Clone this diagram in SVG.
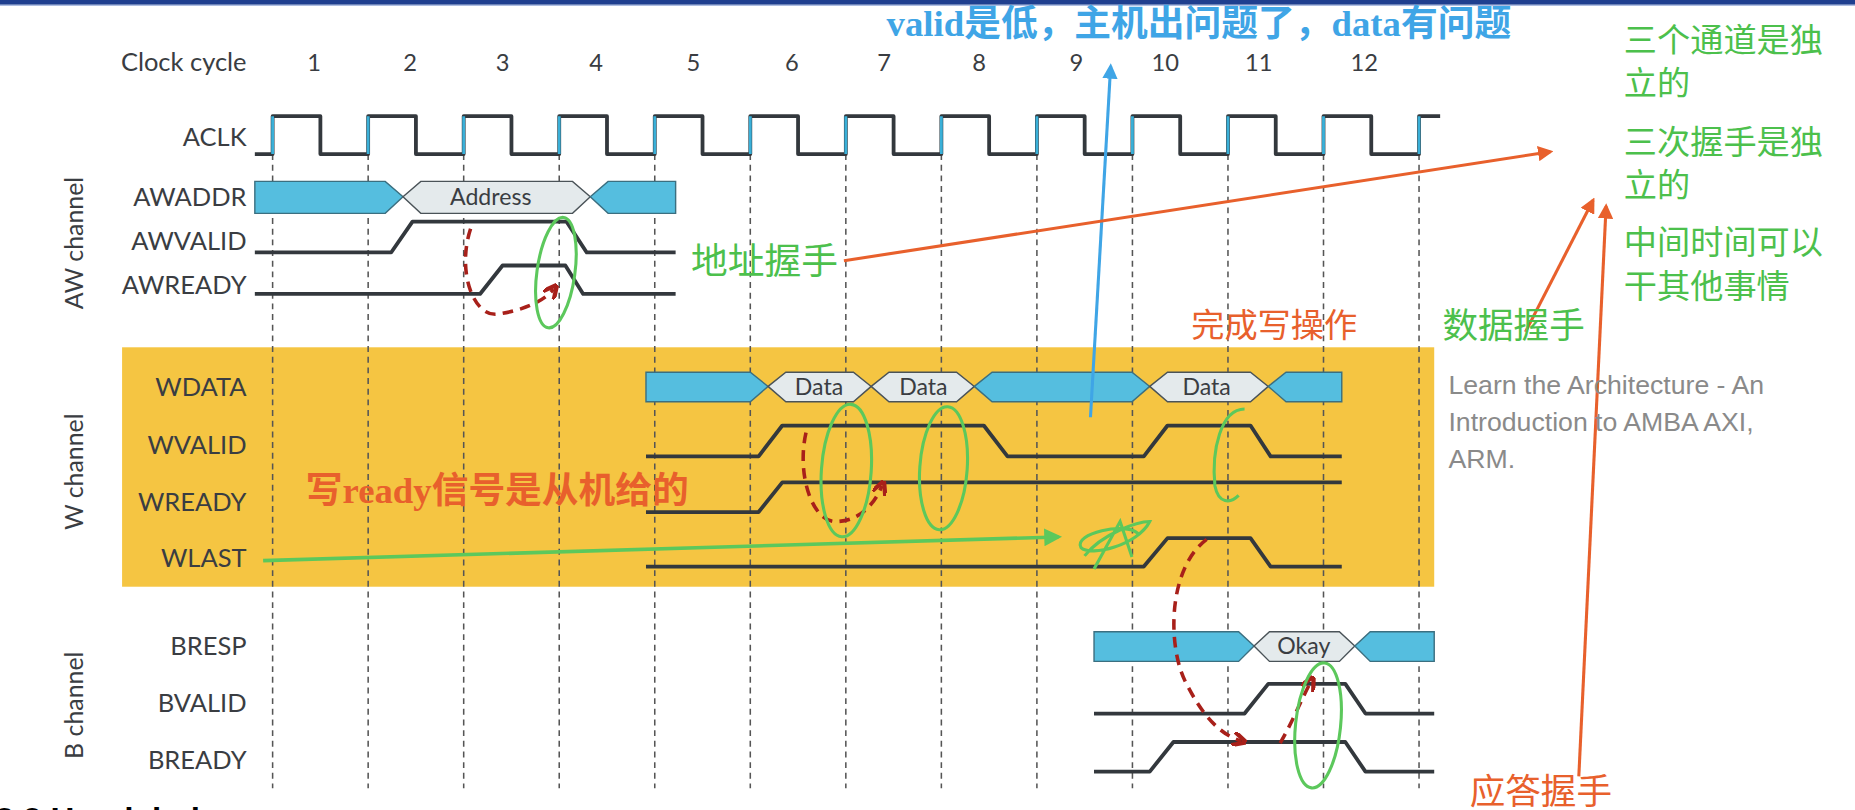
<svg xmlns="http://www.w3.org/2000/svg" width="1855" height="810" viewBox="0 0 1855 810">
<style>
.lbl{font-family:Lato,"Open Sans",sans-serif;font-size:21.5px;fill:#3a3d42;text-anchor:end}
.num{font-family:Lato,"Open Sans",sans-serif;font-size:20px;fill:#3a3d42;text-anchor:middle}
.ch{font-family:Lato,"Open Sans",sans-serif;font-size:21px;fill:#3a3d42;text-anchor:middle}
.sig{fill:none;stroke:#33383d;stroke-width:3.2;stroke-linejoin:round}
.bus{fill:#55bedf;stroke:#3b6f80;stroke-width:1.2}
.hex{fill:#e4eaec;stroke:#4a5358;stroke-width:1.2}
.htxt{font-family:Lato,"Open Sans",sans-serif;font-size:19.5px;fill:#3a3d42;text-anchor:middle}
.dash{stroke:#555;stroke-width:1.3;stroke-dasharray:5,4}
.cn{font-family:"Liberation Serif","Noto Sans CJK SC",serif;font-size:28px}
.grn{fill:#4cc04c}.org{fill:#e8602c}.blu{fill:#3fa5e6}
.gl{fill:none;stroke:#5cc85c;stroke-width:2.6}
.rd{fill:none;stroke:#a8201a;stroke-width:3;stroke-dasharray:9,6}
.ol{stroke:#e8602c;stroke-width:2.6;fill:none}
.gray{font-family:"Liberation Sans",Arial,sans-serif;font-size:22.5px;fill:#8a8a8a}
</style>
<defs>
<marker id="ao" viewBox="0 0 10 10" refX="8" refY="5" markerWidth="5" markerHeight="5" orient="auto"><path d="M0,0L10,5L0,10z" fill="#e8602c"/></marker>
<marker id="ag" viewBox="0 0 10 10" refX="8" refY="5" markerWidth="5" markerHeight="5" orient="auto"><path d="M0,0L10,5L0,10z" fill="#5cc85c"/></marker>
<marker id="ab" viewBox="0 0 10 10" refX="8" refY="5" markerWidth="5" markerHeight="5" orient="auto"><path d="M0,0L10,5L0,10z" fill="#3fa5e6"/></marker>
<marker id="ar" viewBox="0 0 10 10" refX="6" refY="5" markerWidth="4" markerHeight="4" orient="auto"><path d="M0,0L10,5L0,10" fill="none" stroke="#a8201a" stroke-width="3"/></marker>
</defs>
<rect width="1855" height="810" fill="#fff"/>
<g transform="scale(1.1853)">
<rect x="0" y="0" width="1565" height="4" fill="#1f3f8f"/>
<rect x="0" y="4" width="1565" height="1" fill="#a8b8e0"/>
<rect x="103" y="293" width="1107" height="202" fill="#f5c542"/>
<g id="labels">
<text class="lbl" x="208" y="60">Clock cycle</text>
<text class="num" x="265" y="60">1</text><text class="num" x="346" y="60">2</text><text class="num" x="424" y="60">3</text><text class="num" x="503" y="60">4</text><text class="num" x="585" y="60">5</text><text class="num" x="668" y="60">6</text><text class="num" x="746" y="60">7</text><text class="num" x="826" y="60">8</text><text class="num" x="908" y="60">9</text><text class="num" x="983" y="60">10</text><text class="num" x="1062" y="60">11</text><text class="num" x="1151" y="60">12</text>
<text class="lbl" x="208" y="123">ACLK</text>
<text class="lbl" x="208" y="174">AWADDR</text>
<text class="lbl" x="208" y="211">AWVALID</text>
<text class="lbl" x="208" y="248">AWREADY</text>
<text class="lbl" x="208" y="334">WDATA</text>
<text class="lbl" x="208" y="383">WVALID</text>
<text class="lbl" x="208" y="431">WREADY</text>
<text class="lbl" x="208" y="478">WLAST</text>
<text class="lbl" x="208" y="553">BRESP</text>
<text class="lbl" x="208" y="601">BVALID</text>
<text class="lbl" x="208" y="649">BREADY</text>
<text class="ch" transform="translate(70,205) rotate(-90)">AW channel</text>
<text class="ch" transform="translate(70,398) rotate(-90)">W channel</text>
<text class="ch" transform="translate(70,595) rotate(-90)">B channel</text>
</g>
<g id="grid">
<line class="dash" x1="230" y1="130" x2="230" y2="665"/><line class="dash" x1="310.6" y1="130" x2="310.6" y2="665"/><line class="dash" x1="391.2" y1="130" x2="391.2" y2="665"/><line class="dash" x1="471.8" y1="130" x2="471.8" y2="665"/><line class="dash" x1="552.4" y1="130" x2="552.4" y2="665"/><line class="dash" x1="633" y1="130" x2="633" y2="665"/><line class="dash" x1="713.6" y1="130" x2="713.6" y2="665"/><line class="dash" x1="794.2" y1="130" x2="794.2" y2="665"/><line class="dash" x1="874.8" y1="130" x2="874.8" y2="665"/><line class="dash" x1="955.4" y1="130" x2="955.4" y2="665"/><line class="dash" x1="1036" y1="130" x2="1036" y2="665"/><line class="dash" x1="1116.6" y1="130" x2="1116.6" y2="665"/><line class="dash" x1="1197.2" y1="130" x2="1197.2" y2="665"/>
</g>
<g id="aclk">
<path class="sig" d="M215,130 H230 V98 H270.3 V130 H310.6 V98 H350.9 V130 H391.2 V98 H431.5 V130 H471.8 V98 H512.1 V130 H552.4 V98 H592.7 V130 H633 V98 H673.3 V130 H713.6 V98 H753.9 V130 H794.2 V98 H834.5 V130 H874.8 V98 H915.1 V130 H955.4 V98 H995.7 V130 H1036 V98 H1076.3 V130 H1116.6 V98 H1156.9 V130 H1197.2 V98 H1215"/>
<path stroke="#3ab0d8" stroke-width="2.4" d="M230,98V130M310.6,98V130M391.2,98V130M471.8,98V130M552.4,98V130M633,98V130M713.6,98V130M794.2,98V130M874.8,98V130M955.4,98V130M1036,98V130M1116.6,98V130M1197.2,98V130"/>
</g>
<g id="aw">
<polygon class="bus" points="215,153 325,153 340,166 325,180 215,180"/>
<polygon class="hex" points="340,166 355,153 483,153 498,166 483,180 355,180"/>
<text class="htxt" x="414" y="173">Address</text>
<polygon class="bus" points="498,166 513,153 570,153 570,180 513,180"/>
<path class="sig" d="M215,213 H330 L348,187 H478 L495,213 H570"/>
<path class="sig" d="M215,248 H405 L424,224 H477 L492,248 H570"/>
</g>
<g id="w">
<polygon class="bus" points="545,314 633,314 648,326 633,339 545,339"/>
<polygon class="hex" points="648,326 663,314 720,314 735,326 720,339 663,339"/>
<text class="htxt" x="691" y="333">Data</text>
<polygon class="hex" points="735,326 750,314 807,314 822,326 807,339 750,339"/>
<text class="htxt" x="779" y="333">Data</text>
<polygon class="bus" points="822,326 837,314 955,314 970,326 955,339 837,339"/>
<polygon class="hex" points="970,326 985,314 1055,314 1070,326 1055,339 985,339"/>
<text class="htxt" x="1018" y="333">Data</text>
<polygon class="bus" points="1070,326 1085,314 1132,314 1132,339 1085,339"/>
<path class="sig" d="M545,385 H640 L660,359 H830 L850,385 H965 L985,359 H1055 L1072,385 H1132"/>
<path class="sig" d="M545,432 H640 L660,407 H1132"/>
<path class="sig" d="M545,478 H965 L985,454 H1055 L1072,478 H1132"/>
</g>
<g id="b">
<polygon class="bus" points="923,533 1045,533 1058,545 1045,558 923,558"/>
<polygon class="hex" points="1058,545 1071,533 1130,533 1143,545 1130,558 1071,558"/>
<text class="htxt" x="1100" y="552">Okay</text>
<polygon class="bus" points="1143,545 1156,533 1210,533 1210,558 1156,558"/>
<path class="sig" d="M923,602 H1050 L1070,577 H1135 L1152,602 H1210"/>
<path class="sig" d="M923,651 H970 L990,626 H1135 L1152,651 H1210"/>
</g>
<g id="connectors">
<path class="rd" d="M397,193 C385,230 400,268 420,265 C440,262 458,255 467,244" marker-end="url(#ar)"/>
<path class="rd" d="M680,365 C672,400 685,440 705,440 C725,440 738,425 744,410" marker-end="url(#ar)"/>
<path class="rd" d="M1018,455 C985,480 985,545 1000,575 C1015,605 1030,620 1047,625" marker-end="url(#ar)"/>
<path class="rd" d="M1080,627 C1090,610 1098,590 1106,575" marker-end="url(#ar)"/>
<ellipse class="gl" cx="469" cy="230" rx="16" ry="47" transform="rotate(8 469 230)"/>
<ellipse class="gl" cx="714" cy="397" rx="21" ry="56" transform="rotate(4 714 397)"/>
<ellipse class="gl" cx="796" cy="395" rx="20" ry="52" transform="rotate(4 796 395)"/>
<path class="gl" d="M1050,345 C1030,345 1022,380 1025,410 C1028,425 1038,425 1045,418"/>
<ellipse class="gl" cx="1112" cy="612" rx="19" ry="53" transform="rotate(6 1112 612)"/>
<path class="gl" d="M915,469 C930,450 960,440 970,440 C960,460 920,470 912,462 C905,450 950,440 960,450 M923,480 L945,440 L955,470"/>
<line x1="222" y1="473" x2="893" y2="453" stroke="#5cc85c" stroke-width="3" marker-end="url(#ag)"/>
<line x1="920" y1="352" x2="937" y2="56" stroke="#3fa5e6" stroke-width="2.6" marker-end="url(#ab)"/>
<line class="ol" x1="712" y1="220" x2="1308" y2="128" marker-end="url(#ao)"/>
<line class="ol" x1="1287" y1="280" x2="1344" y2="169" marker-end="url(#ao)"/>
<line class="ol" x1="1332" y1="655" x2="1355" y2="174" marker-end="url(#ao)"/>
</g>
<g id="annotations">
<text class="cn blu" x="748" y="30" style="font-weight:bold;font-size:31px">valid是低，主机出问题了，data有问题</text>
<text class="cn grn" x="1370" y="44">三个通道是独</text>
<text class="cn grn" x="1370" y="80">立的</text>
<text class="cn grn" x="1370" y="130">三次握手是独</text>
<text class="cn grn" x="1370" y="166">立的</text>
<text class="cn grn" x="1370" y="214">中间时间可以</text>
<text class="cn grn" x="1370" y="251">干其他事情</text>
<text class="cn grn" x="583" y="231" style="font-size:31px">地址握手</text>
<text class="cn org" x="1005" y="284">完成写操作</text>
<text class="cn grn" x="1217" y="285" style="font-size:30px">数据握手</text>
<text class="cn org" x="258" y="424" style="font-weight:bold;font-size:31px">写ready信号是从机给的</text>
<text class="cn org" x="1240" y="678" style="font-size:30px">应答握手</text>
<text class="gray" x="1222" y="332">Learn the Architecture - An</text>
<text class="gray" x="1222" y="364">Introduction to AMBA AXI,</text>
<text class="gray" x="1222" y="395">ARM.</text>
<text x="-4" y="701" font-family="Liberation Sans,Arial,sans-serif" font-size="28" font-weight="bold" fill="#000">3.2 Handshake</text>
</g>
</g>
</svg>
